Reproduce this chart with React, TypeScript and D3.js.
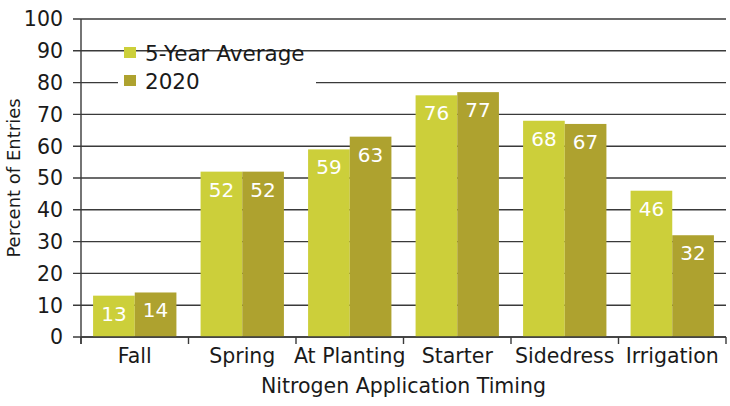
import React from 'react';
import * as d3 from 'd3';

const categories = ['Fall', 'Spring', 'At Planting', 'Starter', 'Sidedress', 'Irrigation'];
const fiveYearAvg = [13, 52, 59, 76, 68, 46];
const year2020 = [14, 52, 63, 77, 67, 32];
const seriesNames = ['5-Year Average', '2020'];
const seriesColors = ['#cccf3a', '#aea22f'];
const yTicks = [0, 10, 20, 30, 40, 50, 60, 70, 80, 90, 100];

const width = 730;
const height = 406;
const margin = { top: 19, right: 4, bottom: 69, left: 81 };
const font = '"DejaVu Sans", sans-serif';

const App: React.FC = () => {
  const innerW = width - margin.left - margin.right;
  const innerH = height - margin.top - margin.bottom;

  const x = d3.scaleBand<string>().domain(categories).range([0, innerW]).paddingInner(0).paddingOuter(0);
  const xSub = d3.scaleBand<number>().domain([0, 1]).range([0, x.bandwidth()]).paddingOuter(0.29).paddingInner(0);
  const y = d3.scaleLinear().domain([0, 100]).range([innerH, 0]);

  const series = [fiveYearAvg, year2020];
  const tickPositions = [...categories.map(c => x(c)!), innerW];

  return (
    <svg width={width} height={height} style={{ position: 'absolute', left: 0, top: 0 }}>
      <g transform={`translate(${margin.left},${margin.top})`} fontFamily={font}>
        {/* gridlines + y ticks */}
        {yTicks.map(t => (
          <g key={t}>
            <line x1={-8} x2={innerW} y1={y(t)} y2={y(t)} stroke="#3a3a3a" strokeWidth={1.4} />
            <text x={-18} y={y(t)} dy="0.36em" textAnchor="end" fontSize={20.5} fill="#1a1a1a">{t}</text>
          </g>
        ))}

        {/* legend background */}
        <rect x={37} y={34} width={198} height={58} fill="#fff" />

        {/* bars */}
        {categories.map((c, i) => (
          <g key={c} transform={`translate(${x(c)},0)`}>
            {series.map((s, k) => (
              <g key={k}>
                <rect x={xSub(k)} y={y(s[i])} width={xSub.bandwidth()} height={innerH - y(s[i])} fill={seriesColors[k]} />
                <text x={xSub(k)! + xSub.bandwidth() / 2} y={y(s[i]) + 25} textAnchor="middle" fontSize={20} fill="#fff">{s[i]}</text>
              </g>
            ))}
          </g>
        ))}

        {/* axes */}
        <line x1={0} x2={0} y1={0} y2={innerH + 7} stroke="#3a3a3a" strokeWidth={1.4} />
        <line x1={0} x2={innerW} y1={innerH} y2={innerH} stroke="#3a3a3a" strokeWidth={1.4} />
        {tickPositions.map((p, i) => (
          <line key={i} x1={p} x2={p} y1={innerH} y2={innerH + 7} stroke="#3a3a3a" strokeWidth={1.4} />
        ))}
        {categories.map(c => (
          <text key={c} x={x(c)! + x.bandwidth() / 2} y={innerH + 26} textAnchor="middle" fontSize={20.5} fill="#1a1a1a">{c}</text>
        ))}

        <text x={innerW / 2} y={innerH + 56} textAnchor="middle" fontSize={20.5} fill="#1a1a1a">Nitrogen Application Timing</text>
        <text transform={`translate(${-61},${innerH / 2}) rotate(-90)`} textAnchor="middle" fontSize={18} fill="#1a1a1a">Percent of Entries</text>

        {/* legend */}
        {seriesNames.map((n, k) => (
          <g key={n} transform={`translate(43,${28 + k * 28})`}>
            <rect x={0} y={0} width={12} height={11} fill={seriesColors[k]} />
            <text x={21} y={6} dy="0.36em" fontSize={21.5} fill="#1a1a1a">{n}</text>
          </g>
        ))}
      </g>
    </svg>
  );
};

export default App;
